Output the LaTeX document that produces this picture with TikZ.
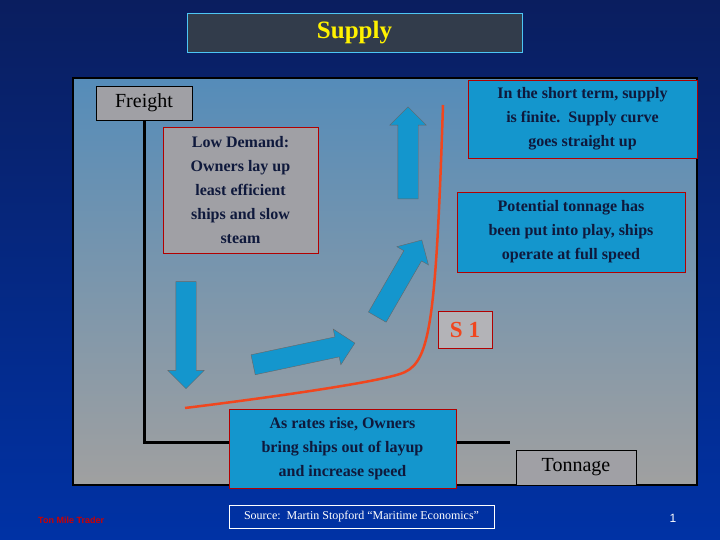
\documentclass[tikz,border=0pt]{standalone}
\usepackage{fontspec}
\setmainfont{Liberation Serif}
\setsansfont{Liberation Sans}
\usepackage{tikz}
\usetikzlibrary{shapes.arrows}
\definecolor{navytop}{RGB}{10,30,95}
\definecolor{navybot}{RGB}{0,50,165}
\definecolor{paneltop}{RGB}{85,140,185}
\definecolor{panelbot}{RGB}{160,160,160}
\definecolor{boxcyan}{RGB}{20,150,205}
\definecolor{boxgray}{RGB}{160,160,165}
\definecolor{textnavy}{RGB}{15,25,60}
\definecolor{curvered}{RGB}{240,70,30}
\definecolor{titlefill}{RGB}{50,60,75}
\tikzset{
  note/.style={draw=red!70!black,fill=boxcyan,text=textnavy,align=center,font=\fontsize{16}{24}\selectfont\bfseries,inner sep=0pt},
  flow/.style={single arrow,draw=gray!80!black,fill=boxcyan,inner sep=0pt,inner ysep=10pt,single arrow head extend=8pt,minimum width=0pt}
}
\begin{document}
\begin{tikzpicture}[x=1pt,y=-1pt]
\useasboundingbox (0,0) rectangle (720,540);
\shade[top color=navytop,bottom color=navybot] (0,0) rectangle (720,540);
\node[draw=cyan!70,fill=titlefill,minimum width=335pt,minimum height=39pt,text=yellow,font=\fontsize{25}{28}\selectfont\bfseries] (title) at (354.5,32.5) {Supply};
\shade[top color=paneltop,bottom color=panelbot,draw=black,line width=2pt] (73,78) rectangle (697,485);
% axes
\coordinate (origin) at (144,442);
\draw[line width=3pt] (144,100) -- (origin) -- (510,442);
% supply curve
\draw[curvered,line width=2.5pt] (185,408) .. controls (250,400) and (385,382) .. (405,372)
  .. controls (430,360) and (436,320) .. (443,105);
% movement arrows
\node[flow,minimum height=107pt,rotate=-90] (down) at (186,330) {};
\node[flow,minimum height=104pt,rotate=12] (right) at (299,355) {};
\node[flow,minimum height=89pt,rotate=60] (diag) at (397,283) {};
\node[flow,minimum height=92pt,rotate=90] (up) at (408,158) {};
% labels
\node[draw=black,fill=boxgray,minimum width=96pt,minimum height=34pt,font=\fontsize{20}{24}\selectfont] (freight) at (144,103) {Freight};
\node[note,fill=boxgray,minimum width=155pt,minimum height=126pt] (low) at (240.5,190) {Low Demand:\\Owners lay up\\least efficient\\ships and slow\\steam};
\node[note,minimum width=229pt,minimum height=78pt] (short) at (582.5,119) {In the short term, supply\\is finite.\ \ Supply curve\\goes straight up};
\node[note,minimum width=228pt,minimum height=80pt] (full) at (571,232) {Potential tonnage has\\been put into play, ships\\operate at full speed};
\node[draw=red!70!black,fill=boxgray!80!white,text=curvered,minimum width=54pt,minimum height=37pt,font=\fontsize{23}{26}\selectfont\bfseries] (s1) at (465,329.5) {S 1};
\node[note,minimum width=227pt,minimum height=79pt] (rise) at (342.5,448.5) {As rates rise, Owners\\bring ships out of layup\\and increase speed};
\node[draw=black,fill=boxgray,minimum width=120pt,minimum height=35pt,font=\fontsize{20}{24}\selectfont] (tonnage) at (576,467.5) {Tonnage};
\node[draw=white,minimum width=265pt,minimum height=23pt,text=white,font=\fontsize{12}{14}\selectfont] (source) at (361.5,516.5) {Source:\ \ Martin Stopford “Maritime Economics”};
\node[text=red!80!black,font=\fontsize{9}{10}\selectfont\sffamily\bfseries,anchor=west,inner sep=0pt] (trader) at (38,520) {Ton Mile Trader};
\node[text=white,font=\fontsize{12}{14}\selectfont\sffamily] (page) at (673,518) {1};
\end{tikzpicture}
\end{document}
